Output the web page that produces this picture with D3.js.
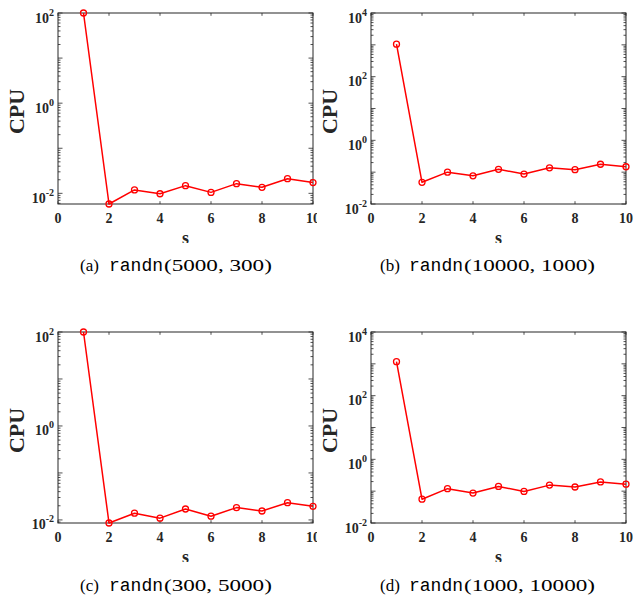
<!DOCTYPE html>
<html><head><meta charset="utf-8">
<script src="https://cdn.jsdelivr.net/npm/d3@7"></script>
<style>body{margin:0;background:#fff}svg{display:block}</style>
</head><body>
<script>
const sValues = [1,2,3,4,5,6,7,8,9,10];
const cpuA = [100, 0.0058, 0.0119, 0.0098, 0.0148, 0.0105, 0.0164, 0.0136, 0.0211, 0.0173];
const cpuB = [1050, 0.048, 0.100, 0.077, 0.123, 0.087, 0.137, 0.120, 0.177, 0.148];
const cpuC = [100, 0.0086, 0.0139, 0.0109, 0.0171, 0.0120, 0.0183, 0.0155, 0.0233, 0.0195];
const cpuD = [1170, 0.056, 0.120, 0.087, 0.141, 0.098, 0.155, 0.135, 0.195, 0.166];
const xTicks = [0,2,4,6,8,10];
const yLimA = [0.0058, 100], yLimB = [0.01, 10000], yLimC = [0.0086, 100], yLimD = [0.01, 10000];
const captionTags = ["(a)", "(b)", "(c)", "(d)"];
const captionArgs = ["(5000, 300)", "(10000, 1000)", "(300, 5000)", "(1000, 10000)"];
const funcName = "randn";
const xLabel = "s", yLabel = "CPU";

const W = 633, H = 610;
const svg = d3.select("body").append("svg").attr("width", W).attr("height", H);
const axisCol = "#262626";
const serif = "'Liberation Serif','Times New Roman',serif";
const mono = "'Liberation Mono','DejaVu Sans Mono',monospace";

const panels = [
  {data: cpuA, ylim: yLimA, x0: 58, x1: 313, y0: 13, y1: 204, clipR: 317, capX: 80},
  {data: cpuB, ylim: yLimB, x0: 371, x1: 626, y0: 13, y1: 204, clipR: 633, capX: 380},
  {data: cpuC, ylim: yLimC, x0: 58, x1: 313, y0: 332, y1: 523, clipR: 317, capX: 80},
  {data: cpuD, ylim: yLimD, x0: 371, x1: 626, y0: 332, y1: 523, clipR: 633, capX: 380}
];

panels.forEach((p, i) => {
  const clipId = "clip" + i;
  const clipL = p.x0 - 58;
  svg.append("clipPath").attr("id", clipId).append("rect")
    .attr("x", clipL).attr("y", p.y0 - 20).attr("width", p.clipR - clipL).attr("height", 250);
  const g = svg.append("g").attr("clip-path", `url(#${clipId})`);
  const x = d3.scaleLinear().domain([0, 10]).range([p.x0, p.x1]);
  const y = d3.scaleLog().domain(p.ylim).range([p.y1, p.y0]);

  const eMin = Math.floor(Math.log10(p.ylim[0])), eMax = Math.ceil(Math.log10(p.ylim[1]));
  const ticksG = g.append("g").attr("stroke", axisCol).attr("stroke-width", 0.8);
  for (let e = eMin; e <= eMax; e++) {
    for (let m = 1; m <= 9; m++) {
      const v = m * Math.pow(10, e);
      if (v < p.ylim[0] * 0.9999 || v > p.ylim[1] * 1.0001) continue;
      const len = m === 1 ? 4.5 : 2.5;
      const yy = y(v);
      ticksG.append("line").attr("x1", p.x0).attr("x2", p.x0 + len).attr("y1", yy).attr("y2", yy);
      ticksG.append("line").attr("x1", p.x1).attr("x2", p.x1 - len).attr("y1", yy).attr("y2", yy);
      if (m === 1 && e % 2 === 0) {
        const t = g.append("text").attr("x", p.x0 - 4).attr("y", yy + 9.5)
          .attr("text-anchor", "end").attr("fill", axisCol)
          .style("font-family", serif).style("font-weight", "bold").style("font-size", "14px");
        t.append("tspan").text("10");
        t.append("tspan").attr("dy", -7).style("font-size", "10px").text(String(e));
      }
    }
  }
  xTicks.forEach(v => {
    const xx = x(v);
    ticksG.append("line").attr("x1", xx).attr("x2", xx).attr("y1", p.y1).attr("y2", p.y1 - 2.8);
    ticksG.append("line").attr("x1", xx).attr("x2", xx).attr("y1", p.y0).attr("y2", p.y0 + 2.8);
    g.append("text").attr("x", xx).attr("y", p.y1 + 19).attr("text-anchor", "middle")
      .attr("fill", axisCol).style("font-family", serif).style("font-weight", "bold")
      .style("font-size", "14px").text(String(v));
  });
  g.append("rect").attr("x", p.x0).attr("y", p.y0).attr("width", p.x1 - p.x0).attr("height", p.y1 - p.y0)
    .attr("fill", "none").attr("stroke", axisCol).attr("stroke-width", 1);

  const line = d3.line().x((d, k) => x(sValues[k])).y(d => y(d));
  g.append("path").datum(p.data).attr("d", line).attr("fill", "none")
    .attr("stroke", "#ff0000").attr("stroke-width", 1.5).attr("stroke-linejoin", "round");
  g.selectAll("circle.m").data(p.data).enter().append("circle")
    .attr("cx", (d, k) => x(sValues[k])).attr("cy", d => y(d)).attr("r", 3)
    .attr("fill", "none").attr("stroke", "#ff0000").attr("stroke-width", 1.3);

  g.append("text").attr("x", (p.x0 + p.x1) / 2).attr("y", p.y1 + 40).attr("text-anchor", "middle")
    .attr("fill", axisCol).style("font-family", serif).style("font-weight", "bold")
    .style("font-size", "18px").text(xLabel);
  const cy = (p.y0 + p.y1) / 2 + 3;
  g.append("text").attr("transform", `translate(${p.x0 - 34},${cy}) rotate(-90)`)
    .attr("text-anchor", "middle").attr("fill", axisCol).style("font-family", serif)
    .style("font-weight", "bold").style("font-size", "22px").text(yLabel);

  const capY = p.y1 + (i < 2 ? 67 : 68);
  const capG = svg.append("g").attr("transform", `translate(${p.capX},${capY})`);
  capG.append("text").attr("x", 0).attr("y", 0).attr("fill", "#000")
    .style("font-family", serif).style("font-size", "17px").text(captionTags[i]);
  capG.append("text").attr("x", 29).attr("y", 0).attr("fill", "#000")
    .style("font-family", mono).style("font-size", "18px").text(funcName);
  capG.append("text").attr("transform", "translate(84,0) scale(1.36,1)").attr("fill", "#000")
    .style("font-family", serif).style("font-size", "17px").text(captionArgs[i]);
});
</script>
</body></html>
